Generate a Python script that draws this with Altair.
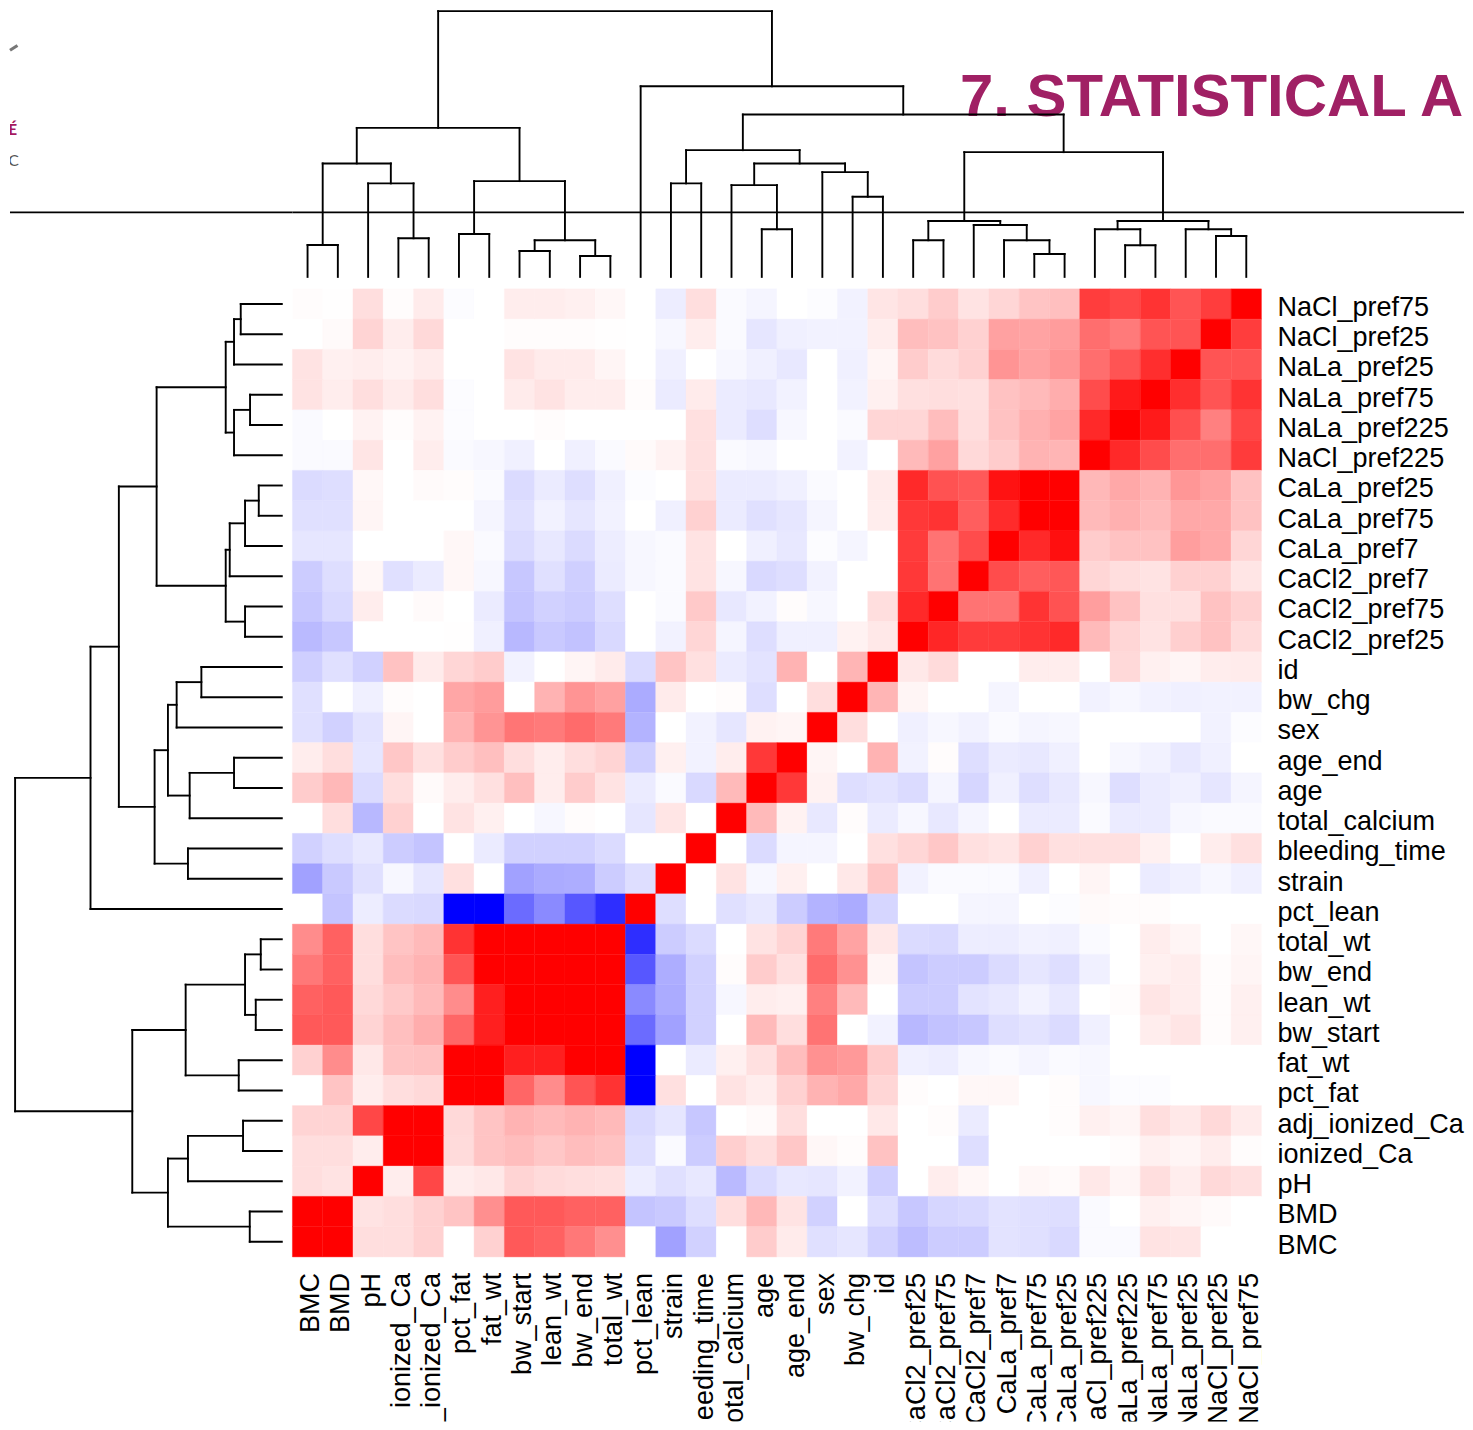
import altair as alt
import pandas as pd

names = ["BMC","BMD","pH","ionized_Ca","adj_ionized_Ca","pct_fat","fat_wt","bw_start","lean_wt","bw_end","total_wt",
         "pct_lean","strain","bleeding_time","total_calcium","age","age_end","sex","bw_chg","id",
         "CaCl2_pref25","CaCl2_pref75","CaCl2_pref7","CaLa_pref7","CaLa_pref75","CaLa_pref25",
         "NaCl_pref225","NaLa_pref225","NaLa_pref75","NaLa_pref25","NaCl_pref25","NaCl_pref75"]

# rows run top to bottom (last name first); columns run left to right (first name first)
heat_rows = [
 [1,0.5,13,1,8,-1,0,7,7,6,3,0,-7,13,-2,-4, 0,-1,-5,10,13,20,11,16,23,25,76,72,80,67,76,100],
 [0,2,17,7,15,0,0,1,1,1,0.5,0,-3,7,-2,-10, -6,-5,-5,7,26,24,18,37,36,39,57,52,67,67,100,76],
 [11,6,7,5,8,0,0,11,8,8,4,0,-6,0,-3,-6, -9,0,-6,4,20,14,18,42,37,42,57,67,82,100,67,67],
 [11,7,13,8,13,-1,0,8,11,7,7,1,-8,8,-8,-9, -5,0,-5,6,12,13,12,24,27,32,70,90,100,82,67,80],
 [-2,0,5,1,5,-1,0,0,1,0,0,0,0,12,-8,-13, -3,0,-2,16,16,26,13,24,31,36,84,100,90,69,50,73],
 [-2,-2,10,0,7,-2,-3,-6,0,-6,-2,2,5,12,-2,-3, 0,0,-5,0,27,37,15,20,30,29,100,84,70,57,57,77],
 [-14,-13,3,0,2,1,-2,-14,-8,-13,-6,-1,0,12,-8,-8, -6,-2,0,8,84,68,65,93,100,100,28,34,30,41,37,24],
 [-12,-12,4,0,0,0,-4,-12,-5,-10,-5,0,-6,18,-8,-12, -10,-4,0,7,78,80,63,83,100,100,27,31,27,34,34,24],
 [-10,-10,0,0,0,3,-2,-14,-9,-14,-7,-3,-2,11,0,-6, -9,-1,-4,0,77,55,70,100,84,94,20,24,24,38,34,16],
 [-20,-13,3,-12,-8,3,-3,-22,-12,-19,-8,-3,-2,11,-3,-15, -13,-5,0,0,78,55,100,70,63,66,16,13,11,18,18,10],
 [-22,-15,7,0,2,0,-8,-23,-18,-20,-13,0,-2,21,-9,-5, 1,-3,0,13,84,100,55,55,80,68,38,24,12,12,24,18],
 [-27,-22,0,0,0,0.5,-6,-28,-21,-24,-15,0,-5,16,-4,-13, -6,-6,5,9,100,85,77,77,80,84,27,16,11,19,24,14],
 [-19,-12,-18,24,8,16,20,-5,0,4,8,-14,23,12,-8,-11, 30,0,29,100,9,14,0,0,7,7,0,15,6,4,7,8],
 [-12,0,-6,1,0,35,39,0,30,42,37,-33,8,0,1,-13, 0,13,100,29,4,0,0,-4,0,0,-5,-3,-5,-6,-5,-5],
 [-12,-18,-11,4,0,30,42,54,52,58,52,-30,0,-5,-10,5, 4,100,13,0,-6,-3,-5,-2,-4,-3,0,0,0,0,-5,-1],
 [7,13,-10,22,12,20,25,13,7,13,17,-19,6,-5,7,78, 100,4,0,30,-5,1,-13,-8,-9,-6,0,-3,-5,-9,-6,0],
 [20,28,-14,13,2,7,12,25,7,20,11,-8,-2,-15,27,100, 78,5,-13,-11,-14,-4,-16,-6,-13,-9,-3,-13,-8,-6,-10,-4],
 [0,13,-28,18,0,11,6,0,-3,1,0,-10,10,0,100,27, 5,-9,1,-8,-3,-9,-4,0,-8,-8,-2,-8,-8,-3,-2,-2],
 [-18,-13,-9,-20,-23,0,-8,-18,-18,-18,-14,0,0,100,0,-14, -4,-4,0,12,16,22,12,10,18,12,12,12,6,0,7,12],
 [-37,-21,-12,-3,-10,12,0,-37,-33,-32,-20,-13,100,0,11,-3, 6,0,9,22,-5,-2,-2,-2,-6,0,4,0,-8,-6,-3,-6],
 [0,-23,-7,-14,-15,-100,-100,-58,-46,-66,-82,100,-13,0,-12,-9, -20,-30,-33,-16,0,0,-4,-4,0,-1,2,1,1,0,0,0],
 [45,62,13,23,27,80,100,100,100,100,100,-82,-20,-14,0,11, 17,52,36,9,-14,-15,-7,-7,-5,-6,-2,0,7,4,0,3],
 [53,62,13,26,30,67,100,100,100,100,100,-66,-32,-18,1,20, 12,58,43,4,-23,-20,-20,-14,-10,-13,-6,0,6,7,1,4],
 [62,65,15,21,27,45,88,100,100,100,100,-46,-33,-18,-3,7, 6,50,27,0,-20,-20,-11,-9,-5,-9,0,1,10,7,1,6],
 [65,65,17,25,32,60,88,100,100,100,100,-58,-37,-18,0,27, 13,55,0,-5,-28,-24,-22,-13,-11,-14,-6,0,7,10,1,6],
 [18,45,9,23,24,100,100,88,88,100,100,-100,0,-8,6,12, 26,43,40,20,-6,-7,-3,-2,-4,-2,-3,0,0,0,0,0],
 [0,23,7,13,15,100,100,60,45,67,80,-100,12,0,11,7, 18,30,34,16,1,0,3,3,0,1,-3,-1,-1,0,0,0],
 [17,17,72,100,100,15,23,30,27,30,27,-15,-10,-22,0,2, 13,0,0,9,0,1,-8,0,0,1,6,4,13,9,15,8],
 [13,13,7,100,100,14,23,26,22,26,24,-13,-2,-20,19,13, 22,3,1,24,0,0,-13,0,0,0,0,1,6,4,7,1],
 [13,11,100,7,72,7,9,17,14,13,12,-7,-12,-9,-27,-14, -9,-10,-5,-19,0,7,3,0,3,2,9,4,13,7,15,12],
 [100,100,11,13,18,23,44,65,65,62,62,-23,-21,-13,13,28, 11,-18,0,-13,-22,-16,-15,-11,-12,-13,-2,0,6,4,2,0],
 [100,100,13,13,18,0,18,65,62,53,44,0,-37,-18,0,20, 8,-12,-10,-18,-26,-20,-20,-11,-12,-15,-2,-2,11,10,0,0],
]

# merge tree: (height, child, child); a leaf is a variable name
body_tree = (149.3,
    (113.7, (32, "BMC", "BMD"), (93.7, "pH", (38.7, "ionized_Ca", "adj_ionized_Ca"))),
    (96, (43, "pct_fat", "fat_wt"),
         (36.7, (26, "bw_start", "lean_wt"), (21, "bw_end", "total_wt"))))
misc_tree = (127,
    (93.7, "strain", "bleeding_time"),
    (113.7, (92, "total_calcium", (47.7, "age", "age_end")),
            (105, "sex", (80.3, "bw_chg", "id"))))
ca_tree = (56, (36.7, "CaCl2_pref25", "CaCl2_pref75"),
           (52, "CaCl2_pref7", (36.7, "CaLa_pref7", (23, "CaLa_pref75", "CaLa_pref25"))))
na_tree = (56, (47.7, "NaCl_pref225", (31.7, "NaLa_pref225", "NaLa_pref75")),
           (47.7, "NaLa_pref25", (41, "NaCl_pref25", "NaCl_pref75")))
tree = (266.3, body_tree,
        (191, "pct_lean", (162.7, misc_tree, (125, ca_tree, na_tree))))

title_text = "7. STATISTICAL ANALYSIS"
logo_line1 = "T É"
logo_line2 = "LIC"

leaf_pos = {n: i + 0.5 for i, n in enumerate(names)}
segments = []


def walk(node):
    if isinstance(node, str):
        return leaf_pos[node], 0.0
    h, a, b = node
    pa, ha = walk(a)
    pb, hb = walk(b)
    segments.append({"p1": pa, "p2": pa, "h1": ha, "h2": h})
    segments.append({"p1": pb, "p2": pb, "h1": hb, "h2": h})
    segments.append({"p1": pa, "p2": pb, "h1": h, "h2": h})
    return (pa + pb) / 2, h


walk(tree)
seg_df = pd.DataFrame(segments)

cells = []
rows_top_down = names[::-1]
for ri, row in enumerate(heat_rows):
    for ci, v in enumerate(row):
        cells.append({"row": rows_top_down[ri], "col": names[ci], "v": v})
cell_df = pd.DataFrame(cells)

FONT = "Liberation Sans"
HEAT_W, HEAT_H = 971, 970
LEFT_W, TOP_H = 283, 279
RIGHT_W = 1174
BOTTOM_H = 165
LINE_Y = 202.3
LINE_W = 1.9
one = pd.DataFrame({"a": [0]})
color_scale = alt.Scale(domain=[-100, 0, 100], range=["#0000ff", "#ffffff", "#ff0000"], interpolate="rgb")

heat = alt.Chart(cell_df).mark_rect(strokeWidth=0.4).encode(
    x=alt.X("col:N", sort=names, title=None, axis=None, scale=alt.Scale(paddingInner=0, paddingOuter=0)),
    y=alt.Y("row:N", sort=rows_top_down, title=None,
            scale=alt.Scale(paddingInner=0, paddingOuter=0),
            axis=alt.Axis(orient="right", domain=False, ticks=False, labelFont=FONT, labelFontSize=27.1,
                          labelPadding=15.5, labelColor="black", labelLimit=400, labelOverlap=False, labelOffset=4)),
    color=alt.Color("v:Q", legend=None, scale=color_scale),
    stroke=alt.Stroke("v:Q", legend=None, scale=color_scale),
).properties(width=HEAT_W, height=HEAT_H)

col_labels = alt.Chart(pd.DataFrame({"col": names})).mark_text(
    font=FONT, fontSize=27.1, color="black", angle=270, align="right", baseline="middle", clip=True, dy=3.5,
).encode(
    x=alt.X("col:N", sort=names, axis=None, title=None, scale=alt.Scale(paddingInner=0, paddingOuter=0)),
    y=alt.value(16),
    text="col:N",
).properties(width=HEAT_W, height=BOTTOM_H)

blank = alt.Chart(one).mark_rule(opacity=0).encode(x=alt.value(0), y=alt.value(0)).properties(
    width=LEFT_W, height=BOTTOM_H)

top_title = alt.Chart(one).mark_text(
    text=title_text, font=FONT, fontSize=60, fontWeight="bold", color="#a02064", align="left",
    baseline="alphabetic", clip=True,
).encode(x=alt.value(669), y=alt.value(106))

top_lines = alt.Chart(seg_df).mark_rule(color="black", strokeWidth=LINE_W, strokeCap="square").encode(
    x=alt.X("p1:Q", axis=None, scale=alt.Scale(domain=[0, 32 * RIGHT_W / HEAT_W], nice=False, zero=False)),
    x2="p2:Q",
    y=alt.Y("h1:Q", axis=None, scale=alt.Scale(domain=[-12, 267], nice=False, zero=False)),
    y2="h2:Q",
)
top_rule = alt.Chart(one).mark_rule(color="black", strokeWidth=LINE_W).encode(
    x=alt.value(0), x2=alt.value(RIGHT_W), y=alt.value(LINE_Y))
top_panel = (top_title + top_rule + top_lines).properties(width=RIGHT_W, height=TOP_H)

corner_rule = alt.Chart(one).mark_rule(color="black", strokeWidth=LINE_W).encode(
    x=alt.value(0), x2=alt.value(LEFT_W), y=alt.value(LINE_Y))
corner_t1 = alt.Chart(one).mark_text(
    text=logo_line1, font="Lato", fontSize=15, fontWeight="bold", color="#a6195f", align="right",
    baseline="middle", clip=True,
).encode(x=alt.value(7), y=alt.value(120))
corner_t2 = alt.Chart(one).mark_text(
    text=logo_line2, font="Lato", fontSize=16, color="#555555", align="right", baseline="middle", clip=True,
).encode(x=alt.value(9), y=alt.value(151))
corner_swoosh = alt.Chart(one).mark_rule(color="#777777", strokeWidth=3).encode(
    x=alt.value(0), x2=alt.value(7.5), y=alt.value(40), y2=alt.value(35))
corner = (corner_swoosh + corner_t1 + corner_t2 + corner_rule).properties(width=LEFT_W, height=TOP_H)

left_panel = alt.Chart(seg_df).mark_rule(color="black", strokeWidth=LINE_W, strokeCap="square").encode(
    x=alt.X("h1:Q", axis=None, scale=alt.Scale(domain=[271.4, -10.6], nice=False, zero=False)),
    x2="h2:Q",
    y=alt.Y("p1:Q", axis=None, scale=alt.Scale(domain=[0, 32], nice=False, zero=False)),
    y2="p2:Q",
).properties(width=LEFT_W, height=HEAT_H)

chart = (
    alt.concat(corner, top_panel, left_panel, heat, blank, col_labels, columns=2, spacing=0, bounds="flush")
    .resolve_scale(x="independent", y="independent")
    .properties(padding=0, background="white")
    .configure_view(strokeWidth=0)
)

chart.save("out.html", embed_options={"renderer": "svg", "actions": False})
